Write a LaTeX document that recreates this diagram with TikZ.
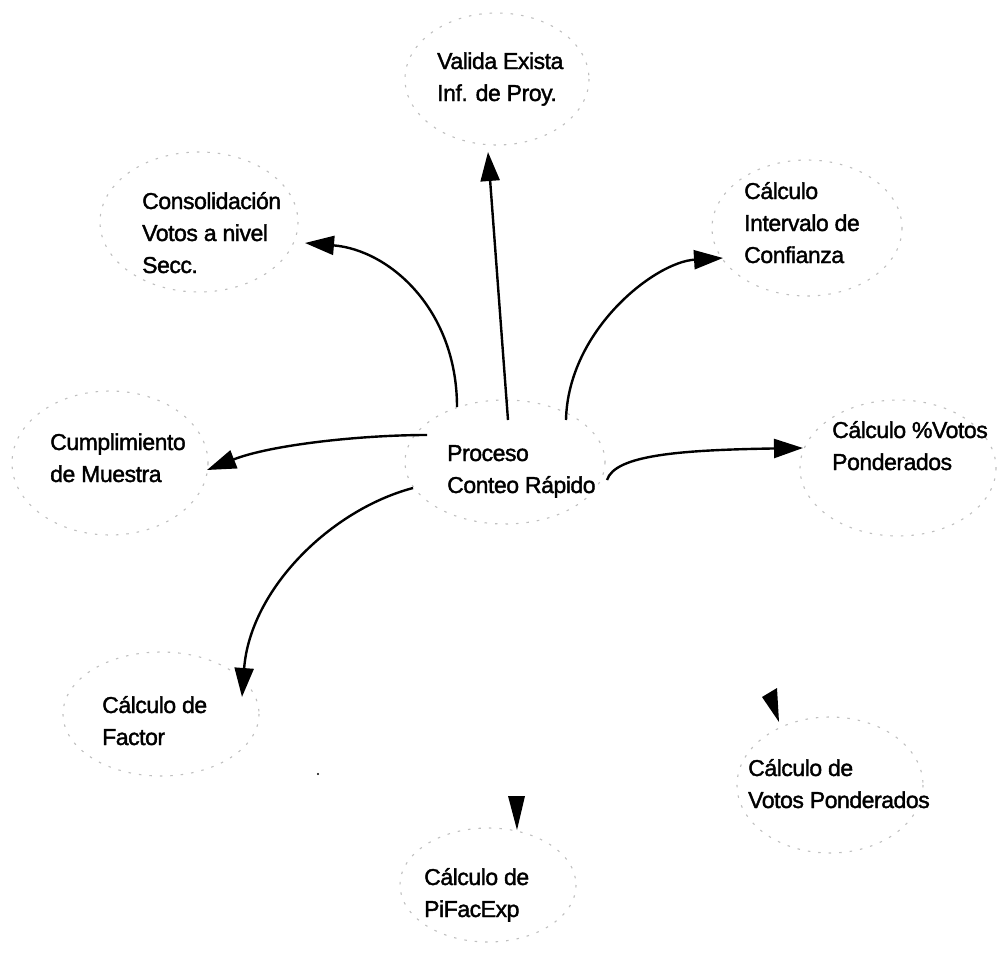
\documentclass[tikz,border=0pt]{standalone}
\usepackage{fontspec}
\setmainfont[FakeBold=1.6,LetterSpace=-2]{Liberation Sans}
\usetikzlibrary{arrows.meta}
\tikzset{
  ring/.style={draw=black!25, line width=1.1pt, dash pattern=on 2.5pt off 8pt},
  lbl/.style={anchor=base west, align=left, inner sep=0pt, font=\fontsize{23}{32}\selectfont},
  conn/.style={line width=2.4pt, -{Triangle[length=29pt,width=19pt]}},
  headfill/.style={fill=black}
}
\begin{document}
\begin{tikzpicture}[x=1pt,y=-1pt]
\useasboundingbox (0,0) rectangle (1002,953);
% faint rings
\draw[ring] (505,462) ellipse [x radius=100, y radius=62];
\draw[ring] (497,79) ellipse [x radius=92, y radius=66];
\draw[ring] (199,222) ellipse [x radius=99, y radius=70];
\draw[ring] (807,228) ellipse [x radius=95, y radius=68];
\draw[ring] (110,463) ellipse [x radius=98, y radius=72];
\draw[ring] (898,468) ellipse [x radius=98, y radius=68];
\draw[ring] (161,714) ellipse [x radius=98, y radius=62];
\draw[ring] (830,785) ellipse [x radius=93, y radius=68];
\draw[ring] (488,885) ellipse [x radius=88, y radius=57];
% labels (anchor at baseline of last line)
\node[lbl] (proc) at (447,493) {Proceso\\Conteo Rápido};
\node[lbl] (valida) at (437,101) {Valida Exista\\Inf. de Proy.};
\node[lbl] (conso) at (142,273) {Consolidación\\Votos a nivel\\Secc.};
\node[lbl] (inter) at (744,263) {Cálculo\\Intervalo de\\Confianza};
\node[lbl] (cumpl) at (50,482) {Cumplimiento\\de Muestra};
\node[lbl] (pvotos) at (832,470) {Cálculo \%Votos\\Ponderados};
\node[lbl] (factor) at (102,745) {Cálculo de\\Factor};
\node[lbl] (vpond) at (748,808) {Cálculo de\\Votos Ponderados};
\node[lbl] (pifac) at (424,917) {Cálculo de\\PiFacExp};
% connector ends
\coordinate (s-valida) at (508,420);
\coordinate (e-valida) at (488,152);
\coordinate (s-conso) at (457,407);
\coordinate (e-conso) at (305,243);
\coordinate (s-inter) at (566,420);
\coordinate (e-inter) at (723,258);
\coordinate (s-cumpl) at (427,435);
\coordinate (e-cumpl) at (207,470);
\coordinate (s-pvotos) at (607,480);
\coordinate (e-pvotos) at (803,448);
\coordinate (s-factor) at (413,488);
\coordinate (e-factor) at (242,697);
% connectors
\draw[conn] (s-valida) -- (e-valida);
\draw[conn] (s-conso) .. controls (457,310) and (390,250) .. (e-conso);
\draw[conn] (s-inter) .. controls (568,330) and (655,262) .. (e-inter);
\draw[conn] (s-cumpl) .. controls (360,435) and (270,445) .. (e-cumpl);
\draw[conn] (s-pvotos) .. controls (615,455) and (680,450) .. (e-pvotos);
\draw[conn] (s-factor) .. controls (330,510) and (250,590) .. (e-factor);
% lone arrowheads
\fill[headfill] (762,697) -- (777,688) -- (779,722) -- cycle;
\fill[headfill] (508,796) -- (525,796) -- (517,830) -- cycle;
\fill (318,774) circle (1.2);
\end{tikzpicture}
\end{document}
